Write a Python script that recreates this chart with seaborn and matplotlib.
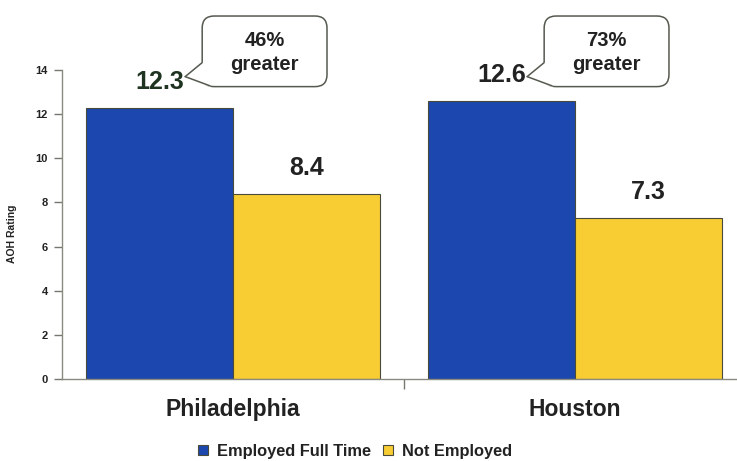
import matplotlib
matplotlib.use("Agg")
import matplotlib.pyplot as plt
import seaborn as sns
import pandas as pd
from matplotlib.ticker import FixedLocator
from matplotlib.patches import FancyBboxPatch, Polygon
from matplotlib.lines import Line2D
from matplotlib.transforms import IdentityTransform

# Chart data
cities = ["Philadelphia", "Houston"]
statuses = ["Employed Full Time", "Not Employed"]
employed = [12.3, 12.6]
not_employed = [8.4, 7.3]
callouts = ["46%\ngreater", "73%\ngreater"]
y_ticks = [0, 2, 4, 6, 8, 10, 12, 14]

df = pd.DataFrame({
    "city": cities * 2,
    "status": [statuses[0]] * 2 + [statuses[1]] * 2,
    "rating": employed + not_employed,
})

sns.set_theme(style="white")
plt.rcParams["font.family"] = ["Liberation Sans", "DejaVu Sans"]
plt.rcParams["font.weight"] = "bold"

BLUE = "#1B47AE"
YELLOW = "#F8CD33"
TEXT = "#222222"
LINE = "#555a50"

fig = plt.figure(figsize=(7.37, 4.61), dpi=100)
ax = fig.add_axes([0.0841, 0.178, 0.928, 0.670])

sns.barplot(data=df, x="city", y="rating", hue="status", order=cities,
            hue_order=statuses, palette=[BLUE, YELLOW], width=0.86,
            edgecolor="#4a4a3a", linewidth=0.8, saturation=1, ax=ax)

ax.set_xlim(-0.5, 1.5)
ax.set_ylim(0, 14)
ax.yaxis.set_major_locator(FixedLocator(y_ticks))
ax.set_yticklabels([str(t) for t in y_ticks], fontsize=8, fontweight="bold", color=TEXT)
ax.set_ylabel("AOH Rating", fontsize=7.5, fontweight="bold", color=TEXT)
ax.yaxis.set_label_coords(-0.066, 0.47)
ax.set_xlabel("")
ax.set_xticks(range(len(cities)))
ax.set_xticklabels(cities, fontsize=16.5, fontweight="bold", color=TEXT)
ax.tick_params(axis="x", which="major", bottom=False, length=0, pad=14)
ax.xaxis.set_minor_locator(FixedLocator([0.5, 1.5]))
ax.tick_params(axis="x", which="minor", bottom=True, length=7, width=1,
               color="#777770", direction="out")
ax.tick_params(axis="y", left=True, length=6, width=1, color="#777770",
               direction="out", pad=4)

for side in ["top", "right"]:
    ax.spines[side].set_visible(False)
for side in ["left", "bottom"]:
    ax.spines[side].set_color("#8a8a80")
    ax.spines[side].set_linewidth(1.0)

# Value labels above each bar
label_colors = [["#1e3320", TEXT], [TEXT, TEXT]]
for container, colors in zip(ax.containers, label_colors):
    texts = ax.bar_label(container, labels=[f"{v:.1f}" for v in container.datavalues],
                         padding=10, fontsize=18, fontweight="bold")
    for t, c in zip(texts, colors):
        t.set_color(c)

# Speech-bubble callouts next to the employed values (drawn in pixel space)
ident = IdentityTransform()
for i, (val, txt) in enumerate(zip(employed, callouts)):
    bar = ax.containers[0][i]
    cx = bar.get_x() + bar.get_width() / 2
    x0, y0 = ax.transData.transform((cx + 0.125, 13.25))
    x1, y1 = ax.transData.transform((cx + 0.49, 16.45))
    box = FancyBboxPatch((x0, y0), x1 - x0, y1 - y0,
                         boxstyle="round,pad=0,rounding_size=12",
                         fc="white", ec=LINE, lw=1.1, transform=ident,
                         clip_on=False, zorder=5)
    fig.add_artist(box)
    tip = (x0 - 17, y0 + 10)
    upper = (x0, y0 + 24)
    lower = (x0 + 8, y0 + 0.7)
    cover = Polygon([tip, (x0 + 8, y0 - 0.5), (x0 + 9.5, y0 + 3.5),
                     (x0 + 4, y0 + 9), (x0 + 3.5, y0 + 24.5),
                     (x0 - 0.5, y0 + 24.5)],
                    closed=True, fc="white", ec="none", transform=ident,
                    clip_on=False, zorder=6)
    fig.add_artist(cover)
    for end in (upper, lower):
        fig.add_artist(Line2D([tip[0], end[0]], [tip[1], end[1]], color=LINE,
                              lw=1.1, transform=ident, zorder=7,
                              solid_capstyle="round"))
    fig.text((x0 + x1) / 2 / fig.bbox.width, ((y0 + y1) / 2 - 1) / fig.bbox.height,
             txt, ha="center", va="center", fontsize=14.5, fontweight="bold",
             color=TEXT, linespacing=1.3, zorder=8)

leg = ax.legend(loc="center", bbox_to_anchor=(355 / 737, 10 / 461),
                bbox_transform=fig.transFigure, ncol=2, frameon=False,
                fontsize=11.8, handlelength=0.6, handleheight=0.6,
                handletextpad=0.55, columnspacing=0.7)
for t in leg.get_texts():
    t.set_color(TEXT)
    t.set_fontweight("bold")

fig.savefig("out.png", dpi=100)
